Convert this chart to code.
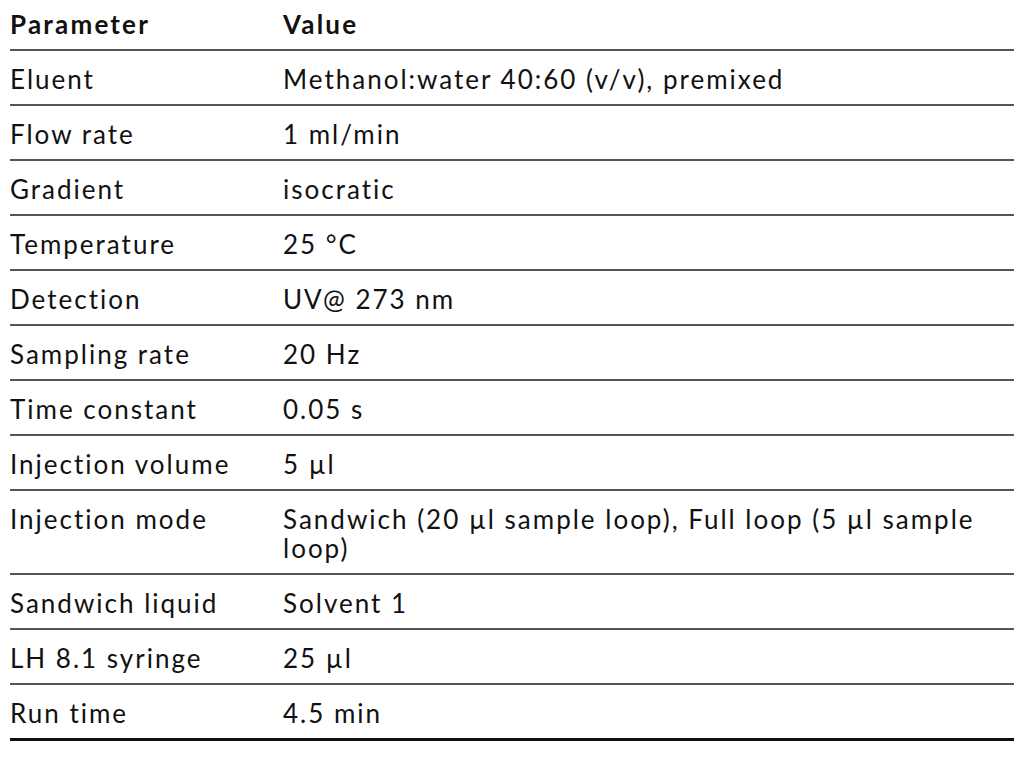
<!DOCTYPE html>
<html><head><meta charset="utf-8">
<script src="https://cdn.jsdelivr.net/npm/chart.js@4/dist/chart.umd.min.js"></script>
<style>
html,body{margin:0;padding:0;background:#fff;width:1024px;height:757px;overflow:hidden}
body{font-family:Lato,"Open Sans",sans-serif;color:#111;font-size:26px}
table{position:absolute;left:10px;top:0;width:1004px;border-collapse:collapse}
td,th{text-align:left;vertical-align:top;padding:0;line-height:29px;letter-spacing:2px}
th{font-weight:700;height:50px;padding-top:10px;box-sizing:border-box;border-bottom:2px solid #555;letter-spacing:2.2px}
td{border-bottom:2px solid #555;height:53px;padding-top:14px;box-sizing:border-box;padding-bottom:10px}
tr:last-child td{border-bottom:3px solid #111}
td.c1,th.c1{width:273px}
</style></head><body>
<table id="t"><thead><tr><th class="c1" id="h1"></th><th id="h2"></th></tr></thead><tbody id="b"></tbody></table>
<script>
const headers=["Parameter","Value"];
const parameters=["Eluent","Flow rate","Gradient","Temperature","Detection","Sampling rate","Time constant","Injection volume","Injection mode","Sandwich liquid","LH 8.1 syringe","Run time"];
const values=["Methanol:water 40:60 (v/v), premixed","1 ml/min","isocratic","25 °C","UV@ 273 nm","20 Hz","0.05 s","5 µl","Sandwich (20 µl sample loop), Full loop (5 µl sample loop)","Solvent 1","25 µl","4.5 min"];
document.getElementById('h1').textContent=headers[0];
document.getElementById('h2').textContent=headers[1];
const b=document.getElementById('b');
parameters.forEach((p,i)=>{const tr=document.createElement('tr');
const a=document.createElement('td');a.className='c1';a.textContent=p;
const v=document.createElement('td');v.textContent=values[i];
if(i===8)v.style.paddingRight='20px';
tr.appendChild(a);tr.appendChild(v);b.appendChild(tr);});
</script>
</body></html>
